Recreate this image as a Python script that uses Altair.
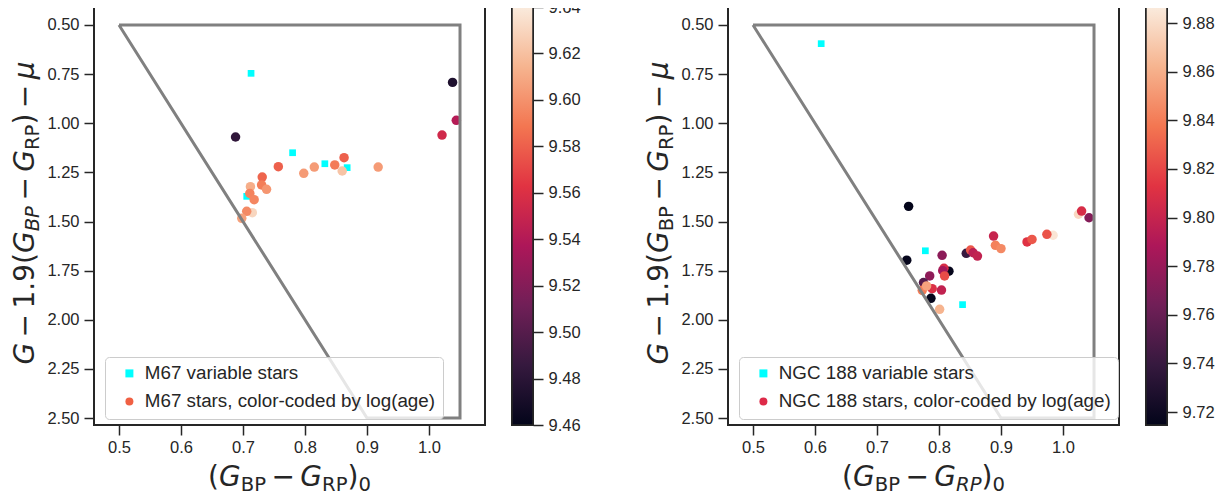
import altair as alt
import pandas as pd

INK = "#262626"
CYAN = "#00ffff"
GREY = "#808080"

# ---------------- data ----------------
m67_var_x = [0.713, 0.780, 0.832, 0.868, 0.706]
m67_var_y = [0.746, 1.150, 1.206, 1.226, 1.372]
m67_x = [1.038, 1.044, 1.021, 0.688, 0.863, 0.757, 0.848, 0.815, 0.798, 0.860,
         0.918, 0.731, 0.730, 0.712, 0.738, 0.711, 0.718, 0.715, 0.706, 0.698]
m67_y = [0.792, 0.985, 1.060, 1.070, 1.175, 1.221, 1.212, 1.223, 1.255, 1.243,
         1.223, 1.274, 1.314, 1.323, 1.336, 1.357, 1.389, 1.455, 1.448, 1.484]
m67_age = [9.474, 9.541, 9.554, 9.483, 9.580, 9.580, 9.591, 9.604, 9.604, 9.622,
           9.604, 9.582, 9.592, 9.612, 9.602, 9.594, 9.595, 9.630, 9.597, 9.606]

ngc_var_x = [0.610, 0.778, 0.838]
ngc_var_y = [0.595, 1.649, 1.923]
ngc_x = [0.751, 1.025, 1.030, 1.042, 0.888, 0.984, 0.974, 0.942, 0.950, 0.891,
         0.900, 0.748, 0.805, 0.844, 0.851, 0.855, 0.862, 0.816, 0.808, 0.806,
         0.809, 0.785, 0.775, 0.773, 0.789, 0.780, 0.804, 0.787, 0.801]
ngc_y = [1.423, 1.463, 1.447, 1.481, 1.574, 1.570, 1.565, 1.604, 1.591, 1.621,
         1.638, 1.697, 1.672, 1.662, 1.645, 1.659, 1.676, 1.753, 1.738, 1.750,
         1.777, 1.777, 1.811, 1.850, 1.842, 1.828, 1.849, 1.891, 1.947]
ngc_age = [9.715, 9.878, 9.808, 9.772, 9.800, 9.884, 9.825, 9.812, 9.826, 9.842,
           9.845, 9.716, 9.775, 9.740, 9.826, 9.795, 9.798, 9.716, 9.808, 9.785,
           9.822, 9.776, 9.752, 9.840, 9.810, 9.855, 9.798, 9.716, 9.862]

box_x = [0.5, 1.05, 1.05, 0.9, 0.5]
box_y = [0.5, 0.5, 2.5, 2.5, 0.5]

x_ticks = [0.5, 0.6, 0.7, 0.8, 0.9, 1.0]
y_ticks = [0.5, 0.75, 1.0, 1.25, 1.5, 1.75, 2.0, 2.25, 2.5]
x_domain = [0.4597, 1.0903]
y_domain = [0.4084, 2.5356]

m67_cbar = [9.46, 9.64]
m67_cbar_ticks = [9.46, 9.48, 9.50, 9.52, 9.54, 9.56, 9.58, 9.60, 9.62, 9.64]
ngc_cbar = [9.7147, 9.8866]
ngc_cbar_ticks = [9.72, 9.74, 9.76, 9.78, 9.80, 9.82, 9.84, 9.86, 9.88]

rocket = ["#03051a", "#35193e", "#701f57", "#ad1759",
          "#e13342", "#f37651", "#f6b48f", "#faebdd"]

m67_labels = ["M67 variable stars", "M67 stars, color-coded by log(age)"]
ngc_labels = ["NGC 188 variable stars", "NGC 188 stars, color-coded by log(age)"]
m67_legend_color = "#f06043"
ngc_legend_color = "#dd2a48"

# ---------------- layout constants ----------------
W, H = 391, 418
CBW = 21
FS = 28
SUBF = 0.7
SUBSHIFT = 4.5
MSP = 0.195
TICKFS = 16.5
W_EM = {"(": 0.390, ")": 0.390, "G": 0.775, "B": 0.686, "P": 0.603, "R": 0.695,
        "0": 0.636, "1": 0.636, "9": 0.636, ".": 0.318, "\u2212": 0.838, "\u03bc": 0.636}

anchor = pd.DataFrame({"a": [0]})


def layout(pieces):
    out, pos = [], 0.0
    for t, it, sub, op in pieces:
        size = FS * SUBF if sub else FS
        w = sum(W_EM[c] for c in t) * size
        if op:
            pos += MSP * FS
        out.append((t, it, sub, size, pos))
        pos += w
        if op:
            pos += MSP * FS
    return out, pos


def title_layers(pieces, horizontal, cx, cy):
    items, total = layout(pieces)
    layers = []
    for t, it, sub, size, pos in items:
        if horizontal:
            px, py, ang = cx - total / 2 + pos, cy + (SUBSHIFT if sub else 0), 0
        else:
            px, py, ang = cx + (SUBSHIFT if sub else 0), cy + total / 2 - pos, 270
        layers.append(
            alt.Chart(anchor).mark_text(
                text=t, font="DejaVu Sans", fontSize=size,
                fontStyle="italic" if it else "normal",
                align="left", baseline="alphabetic", angle=ang, color=INK,
            ).encode(x=alt.value(px), y=alt.value(py))
        )
    return layers


MINUS = "\u2212"


def ytitle(bp_italic):
    return [("G", 1, 0, 0), (MINUS, 0, 0, 1), ("1.9", 0, 0, 0), ("(", 0, 0, 0),
            ("G", 1, 0, 0), ("BP", bp_italic, 1, 0), (MINUS, 0, 0, 1),
            ("G", 1, 0, 0), ("RP", 0, 1, 0), (")", 0, 0, 0), (MINUS, 0, 0, 1),
            ("\u03bc", 1, 0, 0)]


def xtitle(rp_italic):
    return [("(", 0, 0, 0), ("G", 1, 0, 0), ("BP", 0, 1, 0), (MINUS, 0, 0, 1),
            ("G", 1, 0, 0), ("RP", rp_italic, 1, 0), (")", 0, 0, 0), ("0", 0, 1, 0)]


def color_scale(lims):
    lo, hi = lims
    dom = [lo + k * (hi - lo) / (len(rocket) - 1) for k in range(len(rocket))]
    return alt.Scale(domain=dom, range=rocket, interpolate="rgb", clamp=True)


def panel(vx, vy, sx, sy, sage, labels, lims, legend_color, bp_italic, rp_italic):
    xs = alt.Scale(domain=x_domain, nice=False, zero=False)
    ys = alt.Scale(domain=y_domain, nice=False, zero=False, reverse=True)
    xa = alt.Axis(values=x_ticks, format=".1f", title=None, tickSize=10,
                  labelPadding=4, domain=False, grid=False, labelFlush=False)
    ya = alt.Axis(values=y_ticks, format=".2f", title=None, tickSize=10,
                  labelPadding=5, domain=False, grid=False, labelFlush=False)
    shape_scale = alt.Scale(domain=labels, range=["square", "circle"])
    fill_scale = alt.Scale(domain=labels, range=[CYAN, legend_color])
    leg = alt.Legend(
        title=None, orient="none", legendX=11, legendY=350, padding=7,
        fillColor="rgba(255,255,255,0.8)", strokeColor="#cccccc", cornerRadius=4,
        symbolSize=64, symbolOffset=8, labelOffset=6, rowPadding=8,
        labelFont="Liberation Sans", labelFontSize=18.8, labelColor=INK,
        labelLimit=500, symbolStrokeWidth=0, symbolOpacity=1,
    )
    vdf = pd.DataFrame({"x": vx, "y": vy, "kind": labels[0]})
    sdf = pd.DataFrame({"x": sx, "y": sy, "age": sage, "kind": labels[1]})
    bdf = pd.DataFrame({"x": box_x, "y": box_y, "i": list(range(len(box_x)))})

    sq = alt.Chart(vdf).mark_point(filled=True, size=45, opacity=1, strokeWidth=0).encode(
        x=alt.X("x:Q", scale=xs, axis=xa),
        y=alt.Y("y:Q", scale=ys, axis=ya),
        fill=alt.Fill("kind:N", scale=fill_scale, legend=leg),
        shape=alt.Shape("kind:N", scale=shape_scale, legend=leg),
    )
    ci = alt.Chart(sdf).mark_point(filled=True, size=90, opacity=1, strokeWidth=0).encode(
        x=alt.X("x:Q", scale=xs, axis=xa),
        y=alt.Y("y:Q", scale=ys, axis=ya),
        color=alt.Color("age:Q", scale=color_scale(lims), legend=None),
        shape=alt.Shape("kind:N", scale=shape_scale, legend=leg),
    )
    ln = alt.Chart(bdf).mark_line(color=GREY, strokeWidth=3).encode(
        x=alt.X("x:Q", scale=xs, axis=xa),
        y=alt.Y("y:Q", scale=ys, axis=ya),
        order=alt.Order("i:Q"),
    )
    ext = alt.Chart(anchor).mark_text(text="0", fontSize=TICKFS, baseline="middle",
                                      opacity=0).encode(x=alt.value(20), y=alt.value(0))
    layers = [sq, ci, ln, ext]
    layers += title_layers(ytitle(bp_italic), False, -60, 206)
    layers += title_layers(xtitle(rp_italic), True, W / 2, 479)
    return alt.layer(*layers).properties(width=W, height=H)


def colorbar(lims, ticks):
    lo, hi = lims
    stops = [{"offset": k / (len(rocket) - 1), "color": c} for k, c in enumerate(rocket)]
    grad = {"gradient": "linear", "x1": 0, "y1": 1, "x2": 0, "y2": 0, "stops": stops}
    cdf = pd.DataFrame({"lo": [lo], "hi": [hi]})
    return alt.Chart(cdf).mark_rect(color=grad, stroke=INK, strokeWidth=1.5).encode(
        x=alt.value(0), x2=alt.value(CBW),
        y=alt.Y("lo:Q", scale=alt.Scale(domain=[lo, hi], nice=False, zero=False),
                axis=alt.Axis(orient="right", values=ticks, format=".2f", title=None,
                              tickSize=10, labelPadding=5, domain=False, grid=False,
                              labelFlush=False, labelOverlap=False)),
        y2="hi:Q",
    ).properties(width=CBW, height=H)


left = panel(m67_var_x, m67_var_y, m67_x, m67_y, m67_age, m67_labels, m67_cbar,
             m67_legend_color, 1, 0)
right = panel(ngc_var_x, ngc_var_y, ngc_x, ngc_y, ngc_age, ngc_labels, ngc_cbar,
              ngc_legend_color, 0, 1)

chart = alt.hconcat(
    alt.hconcat(left, colorbar(m67_cbar, m67_cbar_ticks), spacing=24),
    alt.hconcat(right, colorbar(ngc_cbar, ngc_cbar_ticks), spacing=24),
    spacing=62,
).properties(
    padding={"left": 2, "top": -10, "right": 0, "bottom": 2}
).configure_view(
    stroke=INK, strokeWidth=2
).configure_axis(
    labelFont="Liberation Sans", labelFontSize=TICKFS, labelColor=INK,
    tickColor=INK, tickWidth=1.5,
).resolve_scale(color="independent", shape="independent", fill="independent")

chart.save("out.html", embed_options={"renderer": "svg", "actions": False})
